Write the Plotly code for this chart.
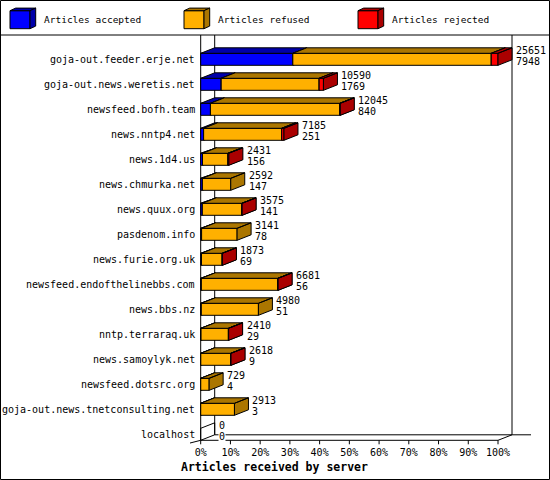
import plotly.graph_objects as go

# ---------------- data ----------------
servers = [
    "goja-out.feeder.erje.net", "goja-out.news.weretis.net", "newsfeed.bofh.team",
    "news.nntp4.net", "news.1d4.us", "news.chmurka.net", "news.quux.org",
    "pasdenom.info", "news.furie.org.uk", "newsfeed.endofthelinebbs.com",
    "news.bbs.nz", "nntp.terraraq.uk", "news.samoylyk.net", "newsfeed.dotsrc.org",
    "goja-out.news.tnetconsulting.net", "localhost",
]
offered = [25651, 10590, 12045, 7185, 2431, 2592, 3575, 3141, 1873, 6681, 4980, 2410, 2618, 729, 2913, 0]
accepted = [7948, 1769, 840, 251, 156, 147, 141, 78, 69, 56, 51, 29, 9, 4, 3, 0]
refused = [17123, 8451, 11165, 6734, 2195, 2445, 3414, 3063, 1784, 6605, 4929, 2361, 2589, 725, 2910, 0]
rejected = [580, 370, 40, 200, 80, 0, 20, 0, 20, 20, 0, 20, 20, 0, 0, 0]
tick_vals = [0, 10, 20, 30, 40, 50, 60, 70, 80, 90, 100]
tick_text = ["0%", "10%", "20%", "30%", "40%", "50%", "60%", "70%", "80%", "90%", "100%"]
series_names = ["Articles accepted", "Articles refused", "Articles rejected"]
front_colors = ["#0000ff", "#ffb000", "#ff0000"]
dark_colors = ["#0000aa", "#ab7600", "#aa0000"]

# ---------------- geometry ----------------
W, Hpx = 550, 480
PL, PR, PT, PB = 190, 545, 35, 445          # plot area in px
X0PX, PXPCT = 200.7, 2.973                  # px of 0 %, px per %
Y0PX, PXROW = 59.3, 25.0                    # px of row 0, px per row
xr = [(PL - X0PX) / PXPCT, (PR - X0PX) / PXPCT]
yr = [(PB - Y0PX) / PXROW, (PT - Y0PX) / PXROW]
DX = 14.0 / PXPCT     # depth in x (% units)
DY = 5.5 / PXROW      # depth in y (row units)
H = 6.0 / PXROW       # half height of bar front
MONO = "DejaVu Sans Mono"

def px_x(p):
    return (p - PL) / (PR - PL)

def px_y(p):
    return (PB - p) / (PB - PT)

maxv = max(offered)
fig = go.Figure()

def add_poly(xs, ys, fill, line_only=False):
    fig.add_trace(go.Scatter(
        x=xs, y=ys, mode="lines",
        fill=None if line_only else "toself",
        fillcolor=fill, line=dict(color="black", width=1),
        hoverinfo="skip", showlegend=False, cliponaxis=False))

nrows = len(servers)
yfloor = (nrows - 1) + H
ytop = yr[1]

# frame: walls and floor
fx, fy = [], []
fx += [0, 0, None]; fy += [ytop, yfloor, None]
fx += [DX, DX, None]; fy += [ytop, yfloor - DY, None]
fx += [100 + DX, 100 + DX, None]; fy += [ytop, yfloor - DY, None]
fx += [-4.6, 0, DX, (531 - X0PX) / PXPCT, None]; fy += [yfloor + 0.14, yfloor, yfloor - DY, yfloor - DY, None]
fx += [0, 100, 100 + DX, None]; fy += [yfloor, yfloor, yfloor - DY, None]
for t in tick_vals:
    fx += [t, t, None]; fy += [yfloor, yfloor + 4.0 / PXROW, None]
add_poly(fx, fy, None, line_only=True)

# bars
for i in range(nrows):
    c = i
    vals = [accepted[i], refused[i], rejected[i]]
    x0 = 0.0
    drawn = False
    for k, v in enumerate(vals):
        if v <= 0:
            continue
        w = v / maxv * 100
        x1 = x0 + w
        add_poly([x0, x1, x1, x0, x0], [c - H, c - H, c + H, c + H, c - H], front_colors[k])
        dxs = [x0, x0 + DX, x1 + DX, x1, x0, None,
               x1, x1 + DX, x1 + DX, x1, x1]
        dys = [c - H, c - H - DY, c - H - DY, c - H, c - H, None,
               c - H, c - H - DY, c + H - DY, c + H, c - H]
        add_poly(dxs, dys, dark_colors[k])
        x0 = x1
        drawn = True
    if not drawn:
        add_poly([0, 0, DX, DX], [c + H, c - H, c - H - DY, c + H - DY], None, line_only=True)

annotations = []
# server names
for i, s in enumerate(servers):
    annotations.append(dict(x=(196.5 - X0PX) / PXPCT, y=i, xref="x", yref="y", text=s,
                            showarrow=False, xanchor="right", yanchor="middle",
                            font=dict(family=MONO, size=10, color="black")))
# number labels
for i in range(nrows):
    xe = offered[i] / maxv * 100 + DX + 1.0
    annotations.append(dict(x=xe, y=i - 8.7 / PXROW, xref="x", yref="y", text=str(offered[i]),
                            showarrow=False, xanchor="left", yanchor="middle", bgcolor="white",
                            borderpad=0, font=dict(family=MONO, size=10, color="black")))
    annotations.append(dict(x=xe, y=i + 1.9 / PXROW, xref="x", yref="y", text=str(accepted[i]),
                            showarrow=False, xanchor="left", yanchor="middle", bgcolor="white",
                            borderpad=0, font=dict(family=MONO, size=10, color="black")))
# axis title
annotations.append(dict(x=px_x(179), y=px_y(467), xref="paper", yref="paper",
                        text="<b>Articles received by server</b>", showarrow=False,
                        xanchor="left", yanchor="middle",
                        font=dict(family=MONO, size=11.5, color="black")))

shapes = []
# legend cubes and text
leg_x = [10, 184, 358]
for k in range(3):
    L = leg_x[k]
    T, B, FW, LDX, LDY = 10.7, 28.7, 20, 5.7, 2.6
    def P(pts):
        return "M " + " L ".join(f"{px_x(a):.5f},{px_y(b):.5f}" for a, b in pts) + " Z"
    shapes.append(dict(type="path", xref="paper", yref="paper",
                       path=P([(L, T), (L + FW, T), (L + FW, B), (L, B)]),
                       fillcolor=front_colors[k], line=dict(color="black", width=1)))
    shapes.append(dict(type="path", xref="paper", yref="paper",
                       path=P([(L, T), (L + LDX, T - LDY), (L + FW + LDX, T - LDY), (L + FW, T)]),
                       fillcolor=dark_colors[k], line=dict(color="black", width=1)))
    shapes.append(dict(type="path", xref="paper", yref="paper",
                       path=P([(L + FW, T), (L + FW + LDX, T - LDY), (L + FW + LDX, B - LDY), (L + FW, B)]),
                       fillcolor=dark_colors[k], line=dict(color="black", width=1)))
    annotations.append(dict(x=px_x(L + 32), y=px_y(19.5), xref="paper", yref="paper",
                            text=series_names[k], showarrow=False, xanchor="left", yanchor="middle",
                            font=dict(family=MONO, size=9.5, color="black")))
# separator and border
shapes.append(dict(type="line", xref="paper", yref="paper", x0=px_x(0), x1=px_x(550),
                   y0=px_y(35), y1=px_y(35), line=dict(color="black", width=1)))
shapes.append(dict(type="rect", xref="paper", yref="paper", x0=px_x(0.5), x1=px_x(549.5),
                   y0=px_y(0.5), y1=px_y(479.5), line=dict(color="black", width=1)))

fig.update_layout(
    width=W, height=Hpx,
    margin=dict(l=PL, r=W - PR, t=PT, b=Hpx - PB, pad=0),
    paper_bgcolor="white", plot_bgcolor="white",
    showlegend=False,
    xaxis=dict(range=xr, showgrid=False, zeroline=False, showline=False,
               tickmode="array", tickvals=tick_vals, ticktext=tick_text, ticks="",
               tickfont=dict(family=MONO, size=10, color="black"), fixedrange=True),
    yaxis=dict(range=yr, showgrid=False, zeroline=False, showline=False,
               showticklabels=False, ticks="", fixedrange=True),
    annotations=annotations, shapes=shapes,
)
fig.write_html("out.html", config={"displayModeBar": False},
               post_script="document.body.style.margin='0px';document.body.style.overflow='hidden';")
